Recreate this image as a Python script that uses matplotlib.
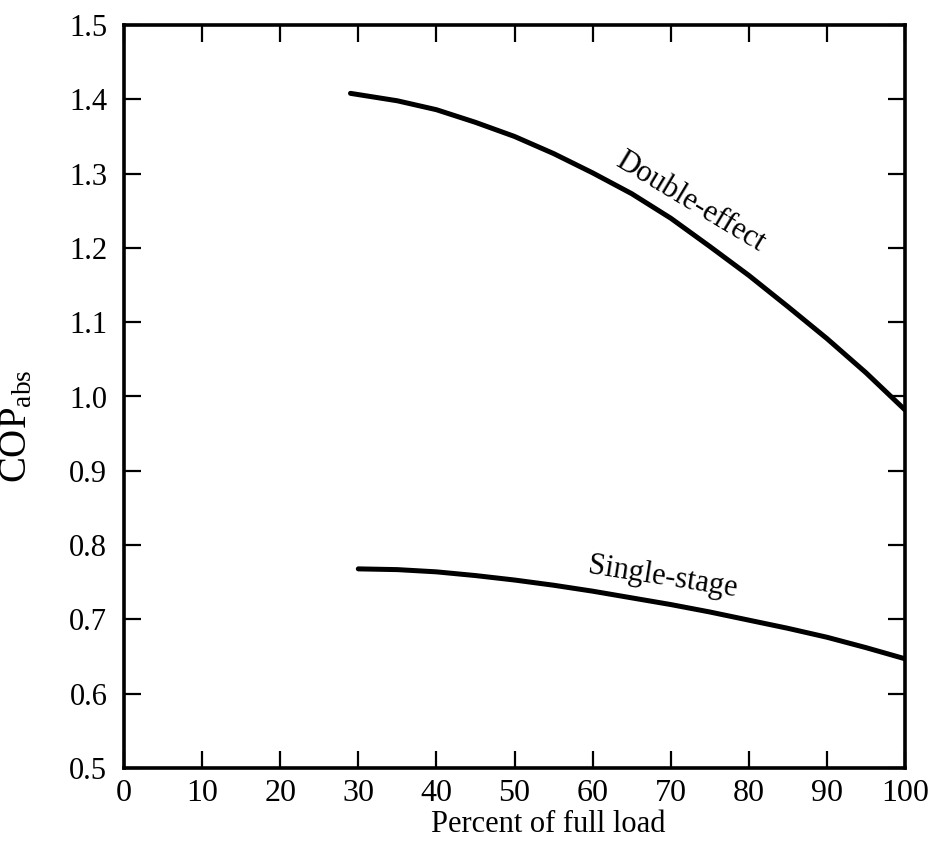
import numpy as np
import matplotlib
matplotlib.use('Agg')
import matplotlib.pyplot as plt
import matplotlib.ticker as ticker

# Значения
loadDouble = [29, 35, 40, 45, 50, 55, 60, 65, 70, 75, 80, 85, 90, 95, 100]
copDouble = [1.408, 1.398, 1.386, 1.369, 1.350, 1.327, 1.301, 1.273, 1.240, 1.202, 1.163, 1.121, 1.078, 1.032, 0.982]
loadSingle = [30, 35, 40, 45, 50, 55, 60, 65, 70, 75, 80, 85, 90, 95, 100]
copSingle = [0.768, 0.767, 0.764, 0.759, 0.753, 0.746, 0.738, 0.729, 0.720, 0.710, 0.699, 0.688, 0.676, 0.662, 0.647]

xTicks = [0, 10, 20, 30, 40, 50, 60, 70, 80, 90, 100]
yTicks = [0.5, 0.6, 0.7, 0.8, 0.9, 1.0, 1.1, 1.2, 1.3, 1.4, 1.5]

plt.rcParams['font.family'] = ['Liberation Serif', 'DejaVu Serif']
plt.rcParams['mathtext.fontset'] = 'custom'
plt.rcParams['mathtext.rm'] = 'Liberation Serif'
plt.rcParams['mathtext.it'] = 'Liberation Serif:italic'

fig = plt.figure(figsize=(9.34, 8.46), dpi=100)
ax = fig.add_axes([124 / 934, 1 - 768 / 846, (905 - 124) / 934, (768 - 25) / 846])

ax.plot(loadDouble, copDouble, color='black', lw=3.6, solid_capstyle='round', solid_joinstyle='round')
ax.plot(loadSingle, copSingle, color='black', lw=3.6, solid_capstyle='round', solid_joinstyle='round')

ax.set_xlim(0, 100)
ax.set_ylim(0.5, 1.5)
ax.xaxis.set_major_locator(ticker.FixedLocator(xTicks))
ax.yaxis.set_major_locator(ticker.FixedLocator(yTicks))
ax.set_xticklabels([str(t) for t in xTicks])
ax.set_yticklabels(['%.1f' % t for t in yTicks])

for s in ax.spines.values():
    s.set_linewidth(2.6)

ax.tick_params(axis='both',
               which='major',
               direction='in',
               length=12,
               width=1.6,
               color='black',
               labelsize=22,
               top=True,
               right=True,
               labeltop=False,
               labelright=False)
ax.tick_params(axis='x', pad=8, labelsize=23)
ax.tick_params(axis='y', pad=12)

ax.set_xlabel('Percent of full load', fontsize=22)
ax.xaxis.set_label_coords(0.543, -0.056)
ax.set_ylabel('COP$_\\mathrm{abs}$', fontsize=28)
ax.yaxis.set_label_coords(-0.113, 0.46)

ax.text(72.5, 1.262, 'Double-effect', fontsize=22, rotation=-31,
        ha='center', va='center', rotation_mode='anchor')
ax.text(69, 0.757, 'Single-stage', fontsize=22, rotation=-9,
        ha='center', va='center', rotation_mode='anchor')

fig.savefig('out.png', dpi=100)
